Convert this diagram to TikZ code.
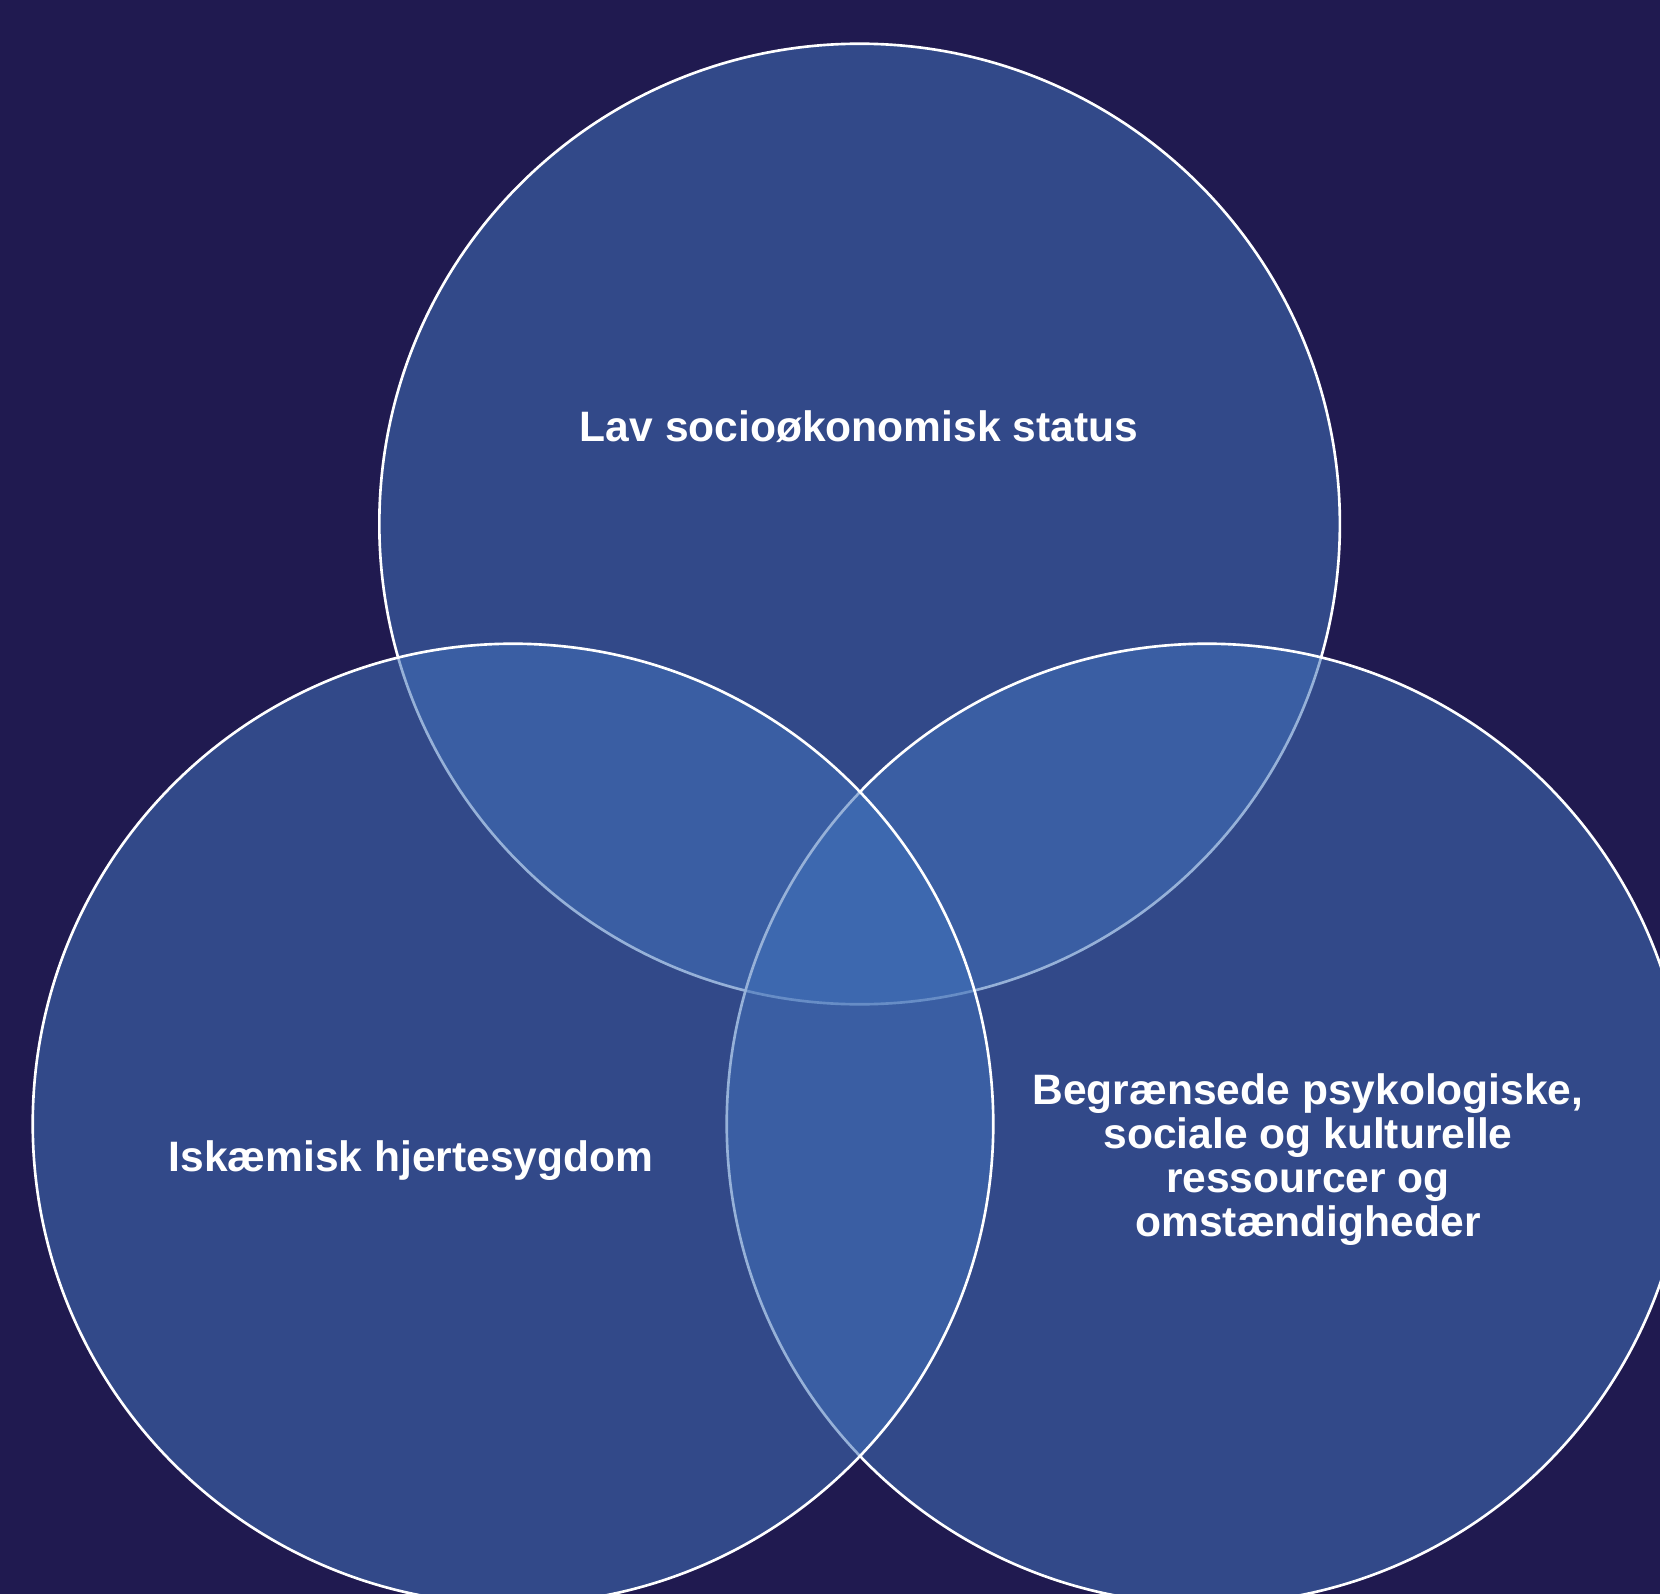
\documentclass[tikz,border=0pt]{standalone}
\usepackage{fontspec}
\setmainfont{Liberation Sans}
\usetikzlibrary{calc}
\definecolor{bgnavy}{RGB}{32,26,80}
\definecolor{vennblue}{RGB}{65,113,185}

\begin{document}
\begin{tikzpicture}[x=0.01cm,y=-0.01cm,
	venn/.style={circle, minimum size=9.6cm, inner sep=0pt, fill=vennblue, fill opacity=0.55, draw=white, draw opacity=1, line width=0.75pt},
	label/.style={text=white, font=\bfseries\fontsize{12.1}{12.5}\selectfont, align=center, inner sep=0pt}]
	
	% Background
	\fill[bgnavy] (0,0) rectangle (1660,1594);
	\useasboundingbox (0,0) rectangle (1660,1594);
	
	% Draw the three circles (top first, left last)
	\node[venn] (status) at (859.6,524) {};
	\node[venn] (ressourcer) at (1207,1124) {};
	\node[venn] (hjerte) at (513,1124) {};
	
	% Labels
	\node[label, anchor=base] (statustxt) at (859,442) {Lav socioøkonomisk status};
	\node[label, anchor=base] (hjertetxt) at (411,1171) {Iskæmisk hjertesygdom};
	\node[label] (ressourcertxt) at (1308,1160) {Begrænsede psykologiske,\\sociale og kulturelle\\ressourcer og\\omstændigheder};
\end{tikzpicture}
\end{document}
